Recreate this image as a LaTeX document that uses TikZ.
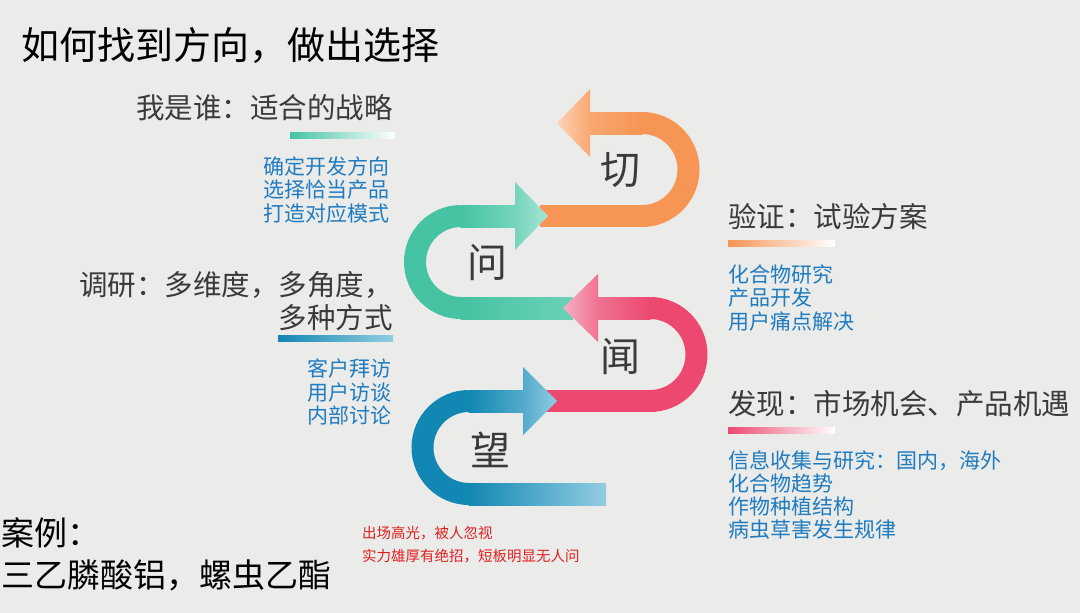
\documentclass[tikz,border=0pt]{standalone}
\usepackage{fontspec}
\setmainfont{Noto Sans CJK SC}
\definecolor{bg}{HTML}{EBEBEA}
\definecolor{orA}{HTML}{F79554}\definecolor{orL}{HTML}{FDD3B4}
\definecolor{teA}{HTML}{45C3A3}\definecolor{teL}{HTML}{A6E6D6}
\definecolor{piA}{HTML}{EC4870}\definecolor{piL}{HTML}{F7B0C3}
\definecolor{blA}{HTML}{1287B3}\definecolor{blL}{HTML}{92CDE2}
\definecolor{txt}{HTML}{3A3A3A}\definecolor{bt}{HTML}{1F7CC0}\definecolor{rt}{HTML}{E02020}
\tikzset{
 head/.style={font=\fontsize{28.5}{30}\selectfont,text=txt,inner sep=0pt},
 item/.style={font=\fontsize{21}{23.2}\selectfont,text=bt,inner sep=0pt,align=left,anchor=west},
 big/.style={font=\fontsize{40}{42}\selectfont,text=txt,inner sep=0pt},
 band/.style={line width=22pt},
}
\begin{document}
\begin{tikzpicture}[x=1pt,y=-1pt]
\fill[bg] (0,0) rectangle (1080,613);
\useasboundingbox (0,0) rectangle (1080,613);
% orange
\draw[band,orA] (642,123) arc(-90:90:46.5);
\fill[orA] (540,205) rectangle (642.5,227);
\shade[left color=orA!70!orL,right color=orA] (590,112) rectangle (642.5,134);
\shade[left color=orL,right color=orA!70!orL] (557,123)--(590,89)--(590,157)--cycle;
% teal
\shade[left color=teA,right color=teA!60!teL] (460.5,297) rectangle (573,319);
\draw[band,teA] (461,308) arc(90:270:46);
\shade[left color=teA,right color=teA!50!teL] (460.5,205) rectangle (515,227);
\shade[left color=teA!50!teL,right color=teL] (548,216)--(515,182)--(515,250)--cycle;
% pink
\shade[left color=piA!60!piL,right color=piA] (598,297) rectangle (650.5,319);
\draw[band,piA] (650,308) arc(-90:90:46.5);
\fill[piA] (545,390) rectangle (650.5,412);
\shade[left color=piL,right color=piA!60!piL] (563,308)--(598,274)--(598,342)--cycle;
% blue
\shade[left color=blA,right color=blL] (468.5,483) rectangle (606,505);
\draw[band,blA] (469,494) arc(90:270:46.5);
\shade[left color=blA,right color=blA!50!blL] (468.5,390) rectangle (523,412);
\shade[left color=blA!50!blL,right color=blL] (557,401)--(523,367)--(523,435)--cycle;
% characters
\node[big] (qie) at (620,170) {切};
\node[big] (wen1) at (487,263) {问};
\node[big] (wen2) at (620,357) {闻};
\node[big] (wang) at (490,450) {望};
% title
\node[font=\fontsize{38}{40}\selectfont,text=black,anchor=west,inner sep=0pt] (title) at (21,45) {如何找到方向，做出选择};
% left texts
\node[head,anchor=east] (h1) at (393,108) {我是谁：适合的战略};
\shade[left color=teA,right color=white] (290,132) rectangle (395,138);
\node[item] (l1) at (263,190) {确定开发方向\\选择恰当产品\\打造对应模式};
\node[head,anchor=east] (h2) at (393,285) {调研：多维度，多角度，};
\node[head,anchor=east] (h2b) at (393,318) {多种方式};
\shade[left color=blA,right color=blL] (278,335) rectangle (393,341);
\node[item] (l2) at (307,392) {客户拜访\\用户访谈\\内部讨论};
% right texts
\node[head,anchor=west] (h3) at (728,217) {验证：试验方案};
\shade[left color=orA,right color=white] (728,240) rectangle (835,246);
\node[item] (r1) at (728,298) {化合物研究\\产品开发\\用户痛点解决};
\node[head,anchor=west] (h4) at (728,404) {发现：市场机会、产品机遇};
\shade[left color=piA,right color=white] (728,427) rectangle (835,433);
\node[item] (r2) at (728,495) {信息收集与研究：国内，海外\\化合物趋势\\作物种植结构\\病虫草害发生规律};
% bottom
\node[font=\fontsize{33}{36}\selectfont,text=black,anchor=west,inner sep=0pt] (c1) at (1,533) {案例：};
\node[font=\fontsize{33}{36}\selectfont,text=black,anchor=west,inner sep=0pt] (c2) at (1,575) {三乙膦酸铝，螺虫乙酯};
\node[font=\fontsize{14.5}{23}\selectfont,text=rt,anchor=west,inner sep=0pt,align=left] (red) at (362,544.5) {出场高光，被人忽视\\实力雄厚有绝招，短板明显无人问};
\end{tikzpicture}
\end{document}
